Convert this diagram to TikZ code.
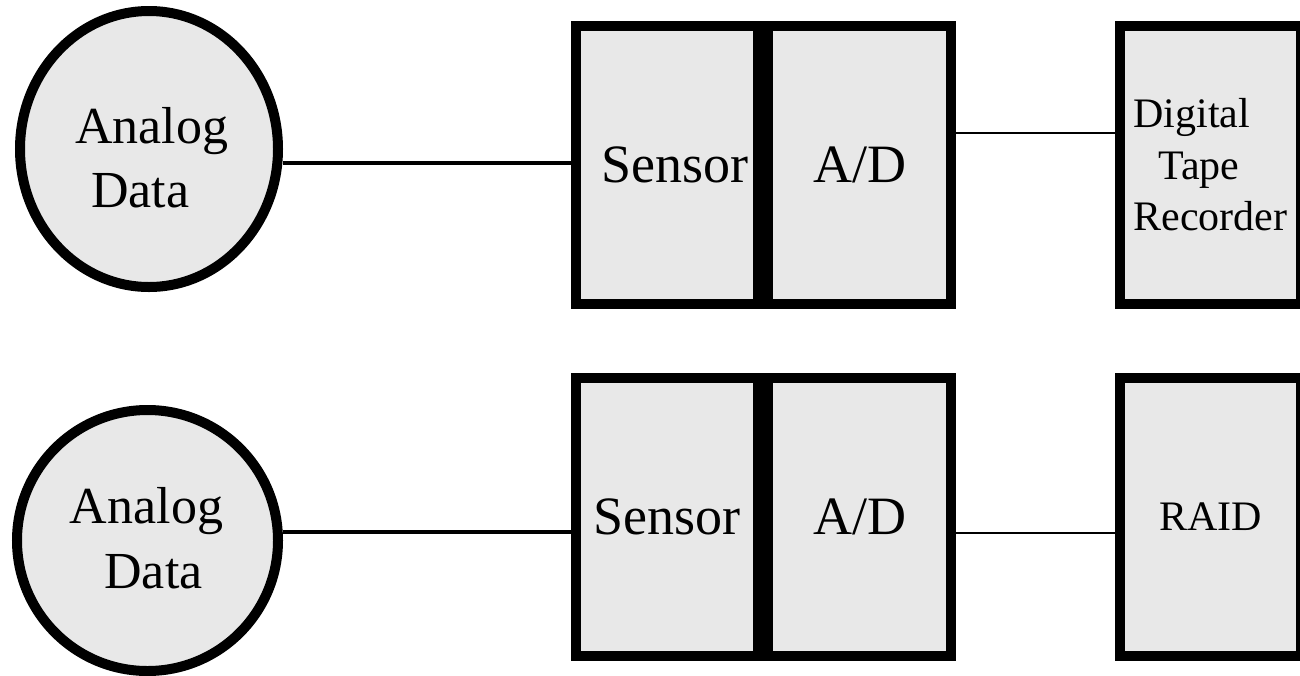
\documentclass[tikz,border=0pt]{standalone}
\usepackage{fontspec}
\setmainfont{Liberation Serif}
\usetikzlibrary{shapes.geometric}
\definecolor{panel}{RGB}{232,232,232}
\begin{document}
\begin{tikzpicture}[x=1pt,y=-1pt,
  source/.style={ellipse, draw=black, fill=panel, line width=10pt, inner sep=0pt},
  unit/.style={rectangle, draw=black, fill=panel, line width=10pt, inner sep=0pt,
    minimum height=278pt, font=\fontsize{54}{60}\selectfont},
  store/.style={unit, font=\fontsize{42}{51.5}\selectfont},
  lbl/.style={inner sep=0pt, font=\fontsize{52}{64}\selectfont},
  heavy/.style={line width=4pt},
  light/.style={line width=2pt}]
\useasboundingbox (0,0) rectangle (1300,675);

% upper chain: analog source, sensor, converter, tape recorder
\node[source, minimum width=258pt, minimum height=276pt] (srcA) at (149,149) {};
\node[lbl, align=left, anchor=west] (srcAtxt) at (75,157.25) {Analog\\\hspace{16pt}Data};
\node[unit, minimum width=182pt] (senA) at (667,165) {\hspace{16pt}Sensor};
\node[unit, minimum width=183pt] (adA) at (859.5,165) {A/D};
\node[store, minimum width=181pt, align=left] (recA) at (1210.5,165)
  {Digital\\\hspace{25pt}Tape\\Recorder};

\coordinate (jA) at ([yshift=2pt]senA.west);
\draw[heavy] (srcA.east |- jA) -- (jA);
\coordinate (kA) at ([yshift=32pt]adA.east);
\draw[light] (kA) -- (recA.west |- kA);

% lower chain: analog source, sensor, converter, RAID
\node[source, minimum size=261pt] (srcB) at (147.5,540.5) {};
\node[lbl, align=center, font=\fontsize{52}{65}\selectfont] (srcBtxt) at (146.5,537.75)
  {Analog\\\hspace{14pt}Data};
\node[unit, minimum width=182pt] (senB) at (667,517) {Sensor};
\node[unit, minimum width=183pt] (adB) at (859.5,517) {A/D};
\node[store, minimum width=181pt] (raid) at (1210.5,517) {RAID};

\coordinate (jB) at ([yshift=-15pt]senB.west);
\draw[heavy] (srcB.east |- jB) -- (jB);
\coordinate (kB) at ([yshift=-15.5pt]adB.east);
\draw[light] (kB) -- (raid.west |- kB);
\end{tikzpicture}
\end{document}
